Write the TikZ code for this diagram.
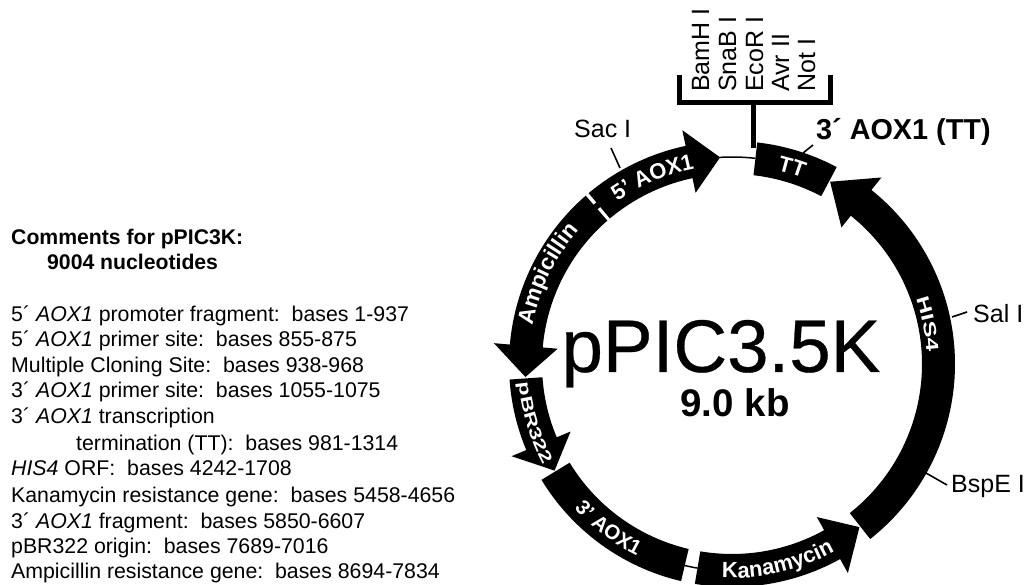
\documentclass[tikz,border=0pt]{standalone}
\usepackage{fontspec}
\setmainfont{Liberation Sans}
\newfontfamily\wideface[FakeStretch=1.4]{Liberation Sans}
\newfontfamily\heavyface[FakeBold=0.4]{Liberation Sans}
\usetikzlibrary{decorations.text}

% band of the plasmid map: inner radius 190, outer radius 223, arrow head 175 to 239
\newcommand{\blockarc}[2]{
	\fill (#1:223) arc[start angle=#1,end angle=#2,radius=223]
	-- (#2:190) arc[start angle=#2,end angle=#1,radius=190] -- cycle;
}
\newcommand{\arrowarc}[3]{
	\fill (#1:223) arc[start angle=#1,end angle=#2,radius=223]
	-- (#2:239) -- (#3:207) -- (#2:175)
	-- (#2:190) arc[start angle=#2,end angle=#1,radius=190] -- cycle;
}
\newcommand{\bandlabel}[4]{
	\path[decorate,decoration={text along path,text align=center,text color=white,text={#4}}]
	(#1:#3) arc[start angle=#1,end angle=#2,radius=#3];
}

\begin{document}
\begin{tikzpicture}[
		x=1pt,y=1pt,
		site/.style={inner sep=0pt,font=\fontsize{25}{25}\selectfont},
		enzyme/.style={site,rotate=90,anchor=base west},
		comment/.style={inner sep=0pt,anchor=base west,font=\fontsize{21.3}{25}\selectfont},
		heading/.style={comment,font=\fontsize{21.2}{25}\selectfont\bfseries},
		tick/.style={line width=1.6pt},
		bracket/.style={line width=5pt},
		backbone/.style={line width=1.5pt},
	]
	\useasboundingbox (0,0) rectangle (1031,584);

	% --- comments on the left
	\node[heading] (head1) at (11,339) {Comments for pPIC3K:};
	\node[heading] (head2) at (47,314) {9004 nucleotides};
	\node[comment] (line1) at (11,262.5) {5´ \textit{AOX1} promoter fragment:\ \ bases 1-937};
	\node[comment] (line2) at (11,237) {5´ \textit{AOX1} primer site:\ \ bases 855-875};
	\node[comment] (line3) at (11,211) {Multiple Cloning Site:\ \ bases 938-968};
	\node[comment] (line4) at (11,186) {3´ \textit{AOX1} primer site:\ \ bases 1055-1075};
	\node[comment] (line5) at (11,160) {3´ \textit{AOX1} transcription};
	\node[comment] (line6) at (76,133.5) {termination (TT):\ \ bases 981-1314};
	\node[comment] (line7) at (11,108) {\textit{HIS4} ORF:\ \ bases 4242-1708};
	\node[comment] (line8) at (11,81.5) {Kanamycin resistance gene:\ \ bases 5458-4656};
	\node[comment] (line9) at (11,56) {3´ \textit{AOX1} fragment:\ \ bases 5850-6607};
	\node[comment] (line10) at (11,31) {pBR322 origin:\ \ bases 7689-7016};
	\node[comment] (line11) at (11,5.5) {Ampicillin resistance gene:\ \ bases 8694-7834};

	% --- multiple cloning site
	\coordinate (mcsl) at (679.5,509);
	\coordinate (mcsr) at (830,509);
	\coordinate (mcsm) at (753,481.5);
	\coordinate (mcst) at (753,436);
	\draw[bracket] (mcsl) |- (mcsm) -| (mcsr);
	\draw[bracket] (mcsm) -- (mcst);
	\node[enzyme] (bamh) at (709,492) {BamH I};
	\node[enzyme] (snab) at (736,492) {SnaB I};
	\node[enzyme] (ecor) at (763,492) {EcoR I};
	\node[enzyme] (avr) at (789,492) {Avr II};
	\node[enzyme] (not) at (815,492) {Not I};

	% --- restriction sites
	\node[site,anchor=base west] (sac) at (574,446) {Sac I};
	\node[site,anchor=base west] (sal) at (973,261) {Sal I};
	\node[site,anchor=base west] (bsp) at (951,91) {BspE I};
	\node[inner sep=0pt,anchor=base west,font=\fontsize{28.8}{29}\selectfont\bfseries] (ter) at (816,444) {3´ AOX1 (TT)};
	\coordinate (sact) at (611,436);
	\coordinate (sacb) at (620,416);
	\coordinate (salt) at (967,272);
	\coordinate (salb) at (952,267);
	\coordinate (bspt) at (947,99);
	\coordinate (bspb) at (926,111);
	\coordinate (tert) at (813,439);
	\coordinate (terb) at (803,431);
	\draw[tick] (sact) -- (sacb);
	\draw[tick] (salt) -- (salb);
	\draw[tick] (bspt) -- (bspb);
	\draw[tick] (tert) -- (terb);

	% --- name of the plasmid
	\node[inner sep=0pt,anchor=base,font=\heavyface\fontsize{74.5}{75}\selectfont] (name) at (721,212) {pPIC3.5K};
	\node[inner sep=0pt,anchor=base,font=\fontsize{38.5}{39}\selectfont\bfseries] (size) at (735,167) {9.0 kb};

	% --- the map
	\begin{scope}[shift={(732,220)}]
		\draw[backbone] (93.3:207) arc[start angle=93.3,end angle=83.5,radius=207];
		\draw[backbone] (-99.6:207) arc[start angle=-99.6,end angle=-103.2,radius=207];
		\arrowarc{130}{102}{93.3}
		\blockarc{83.5}{62}
		\arrowarc{-51.7}{51.3}{61.7}
		\arrowarc{-99.6}{-61}{-52}
		\blockarc{-103.2}{-148.7}
		\arrowarc{184}{202.7}{211}
		\arrowarc{131}{175}{183.6}
		\fill (131.2:205) -- (131.2:211) -- (129.8:211) -- (129.8:205) -- cycle;

		\bandlabel{148}{78}{199}{|\fontsize{22}{22}\selectfont\bfseries|5' AOX1}
		\bandlabel{189}{119}{203}{|\fontsize{22.5}{23}\selectfont\bfseries|Ampicillin}
		\bandlabel{161.6}{231.6}{214}{|\wideface\fontsize{16.5}{17}\selectfont\bfseries|pBR322}
		\bandlabel{198}{268}{214}{|\fontsize{20.5}{21}\selectfont\bfseries|3' AOX1}
		\bandlabel{-112}{-42}{214}{|\fontsize{22}{22}\selectfont\bfseries|Kanamycin}
		\bandlabel{46.5}{-23.5}{195}{|\wideface\fontsize{17.5}{18}\selectfont\bfseries|HIS4}
		\bandlabel{103}{43}{199}{|\fontsize{22}{22}\selectfont\bfseries|TT}
	\end{scope}
\end{tikzpicture}
\end{document}
